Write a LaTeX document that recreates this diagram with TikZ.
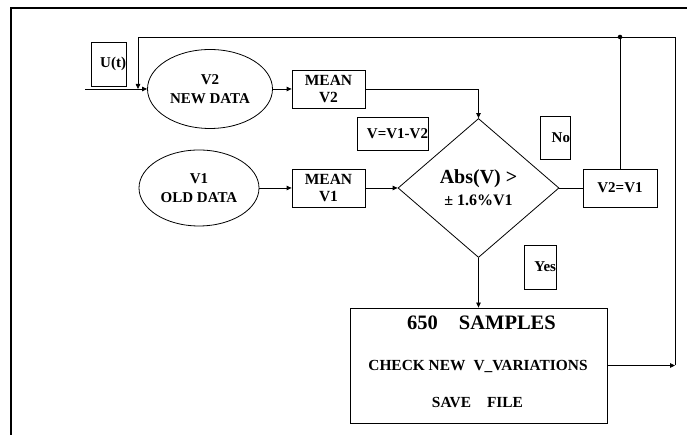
\documentclass[tikz,border=0pt]{standalone}
\usepackage{fontspec}
\setmainfont{Liberation Serif}
\usetikzlibrary{arrows.meta,positioning,shapes.geometric}

\begin{document}
\begin{tikzpicture}[x=1pt,y=1pt,line width=0.8pt,font=\fontsize{15}{18}\selectfont\bfseries,
box/.style={draw,align=center,inner sep=0pt},
tag/.style={draw,align=right,inner sep=0pt},
oval/.style={draw,ellipse,align=center,inner sep=0pt},
arr/.style={-{Triangle[length=5pt,width=4.5pt]}}]
\useasboundingbox (0,0) rectangle (687,435);
\draw[line width=1.8pt] (687,427) -- (11,427) -- (11,0);
% inputs and means
\node[oval,minimum width=125,minimum height=79,font=\fontsize{15}{19}\selectfont\bfseries] (new) at (210,346) {V2\\NEW DATA};
\node[oval,minimum width=120,minimum height=76,font=\fontsize{15}{19}\selectfont\bfseries] (old) at (199,247) {V1\\OLD DATA};
\node[box,minimum width=73,minimum height=38,font=\fontsize{15.5}{17}\selectfont\bfseries] (meanb) at (328.5,346) {MEAN\\V2};
\node[box,minimum width=73,minimum height=38,font=\fontsize{15.5}{17}\selectfont\bfseries] (meana) at (328.5,247) {MEAN\\V1};
\node[tag,text width=35,minimum height=44] (ut) at (108.5,371) {U(t)};
\coordinate (in) at (85,346);
% test
\node[draw,diamond,aspect=1.16,minimum width=161,minimum height=139,inner sep=0pt,align=center,font=\fontsize{16}{22}\selectfont\bfseries] (test) at (478.5,247) {{\fontsize{20}{22}\selectfont Abs(V) >}\\± 1.6\%V1};
\node[tag,text width=71,minimum height=33] (diff) at (392.5,301.5) {V=V1-V2};
\node[tag,text width=30,minimum height=43] (no) at (555,297.5) {No\hspace{2pt}};
\node[tag,text width=32,minimum height=44] (yes) at (540,168) {Yes};
\node[box,minimum width=74,minimum height=38] (swap) at (620,247) {V2=V1};
% samples box
\node[draw,minimum width=257,minimum height=115,inner sep=0pt] (smp) at (478.5,69.5) {};
\node[anchor=base,inner sep=0pt,font=\fontsize{20.5}{22}\selectfont\bfseries] (smpa) at (481.5,105) {650\hspace{21pt}SAMPLES};
\node[anchor=base,inner sep=0pt,font=\fontsize{15.4}{17}\selectfont\bfseries] (smpb) at (478,64) {CHECK NEW\hspace{8pt}V\_VARIATIONS};
\node[anchor=base,inner sep=0pt,font=\fontsize{15.4}{17}\selectfont\bfseries] (smpc) at (477.5,27) {SAVE\hspace{16pt}FILE};
\coordinate (rt) at (675,69.5);
\coordinate (tp) at (675,398);
\coordinate (fb) at (138,398);
% connectors
\draw[arr] (in)--(new.west);\draw[arr] (new)--(meanb);\draw[arr] (old)--(meana);
\draw[arr] (meanb.east) -| (test.north);\draw[arr] (meana)--(test.west);
\draw (test.east)--(swap.west);\draw[arr] (test.south)--(smp.north);
\draw[arr] (smp.east)--(rt);
\draw[arr] (rt)--(tp)--(fb)--(fb |- new.west);
\draw (swap.north)--(swap.north |- tp) node[circle,fill,inner sep=1.6pt] (dot) {};
\end{tikzpicture}
\end{document}
